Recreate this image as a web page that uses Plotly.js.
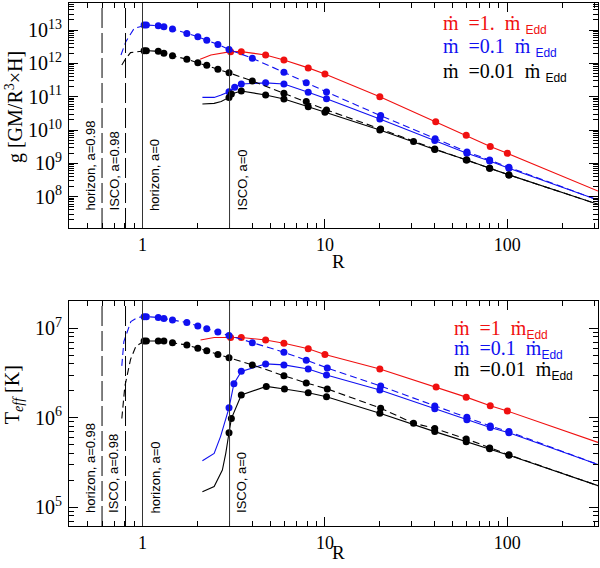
<!DOCTYPE html>
<html>
<head>
<meta charset="utf-8">
<script src="https://cdn.plot.ly/plotly-3.0.1.min.js"></script>
<style>body{margin:0;background:#fff}#plot{width:600px;height:568px}</style>
</head>
<body>
<div id="plot"></div>
<script>
// radii of horizon / ISCO markers (R in units of 2GM/c^2)
const refRadii = [0.6, 0.807, 1, 3];
const refLabels = ["horizon, a=0.98", "ISCO, a=0.98", "horizon, a=0", "ISCO, a=0"];

// top panel: g [GM/R^3 x H]
const topRedR = [2.07, 2.37, 3.04, 3.48, 4.73, 5.96, 8.1, 10, 20, 40.5, 59.5, 80.6, 100, 314];
const topRed = [1.32e12, 1.78e12, 2.24e12, 2.24e12, 1.78e12, 1.26e12, 7.3e11, 4.8e11, 1.0e11, 1.78e10, 6.9e9, 3.2e9, 2.0e9, 1.48e8];
const topBlueDashR = [0.762, 0.81, 0.9, 1.02, 1.05, 1.22, 1.31, 1.46, 1.75, 2.01, 2.25, 2.59, 2.98, 4.0, 5.96, 7.9, 10.2, 20.2, 40.2, 60.1, 80, 102, 314];
const topBlueDash = [1.78e12, 4.47e12, 1.12e13, 1.41e13, 1.41e13, 1.35e13, 1.26e13, 1.07e13, 7.9e12, 6.3e12, 4.9e12, 3.7e12, 2.6e12, 1.41e12, 5.4e11, 2.6e11, 1.38e11, 2.7e10, 5.5e9, 2.2e9, 1.26e9, 7.6e8, 7.9e7];
const topBlueR = [2.13, 2.47, 2.7, 2.98, 3.2, 3.48, 4.73, 5.96, 8.1, 10.2, 20, 40, 60, 80, 102, 314];
const topBlue = [9.5e10, 9.5e10, 1.12e11, 1.41e11, 1.9e11, 2.4e11, 2.6e11, 2.4e11, 1.35e11, 8.7e10, 2.14e10, 4.8e9, 2.0e9, 1.17e9, 7.1e8, 7.9e7];
const topBlackDashR = [0.77, 0.8, 0.86, 1.02, 1.05, 1.22, 1.31, 1.46, 1.75, 2.01, 2.25, 2.59, 2.98, 4.0, 5.96, 7.9, 10.2, 20.2, 30.6, 40, 59.5, 80, 102, 314];
const topBlackDash = [8.9e11, 1.26e12, 2.1e12, 2.4e12, 2.4e12, 2.3e12, 2.0e12, 1.7e12, 1.32e12, 1.05e12, 8.7e11, 6.6e11, 5.2e11, 2.95e11, 1.26e11, 7.2e10, 4.0e10, 1.07e10, 4.5e9, 2.7e9, 1.26e9, 7.1e8, 4.5e8, 5.9e7];
const topBlackR = [2.13, 2.47, 2.7, 2.98, 3.07, 3.48, 4.73, 5.96, 8.1, 10, 20, 40, 60, 80, 102, 314];
const topBlack = [6.0e10, 6.3e10, 7.2e10, 9.5e10, 1.2e11, 1.48e11, 1.12e11, 8.5e10, 5.0e10, 3.4e10, 1.0e10, 2.6e9, 1.26e9, 7.1e8, 4.5e8, 5.9e7];

// bottom panel: Teff [K]
const botRedR = [2.08, 2.47, 3.04, 3.48, 4.73, 5.96, 8.1, 10, 20, 40.7, 59.5, 80.6, 100, 314];
const botRed = [7.4e6, 7.9e6, 7.9e6, 7.9e6, 7.4e6, 6.8e6, 5.9e6, 5.1e6, 3.5e6, 2.2e6, 1.7e6, 1.36e6, 1.19e6, 5.3e5];
const botBlueDashR = [0.77, 0.79, 0.863, 0.94, 1.02, 1.05, 1.22, 1.31, 1.46, 1.75, 2.01, 2.25, 2.59, 2.98, 4.0, 5.96, 7.9, 10.3, 20.2, 40, 60, 80.6, 102, 314];
const botBlueDash = [3.8e6, 7.1e6, 1.19e7, 1.32e7, 1.35e7, 1.35e7, 1.32e7, 1.29e7, 1.24e7, 1.16e7, 1.06e7, 9.9e6, 9.1e6, 8.3e6, 6.9e6, 5.4e6, 4.4e6, 3.6e6, 2.26e6, 1.35e6, 1.01e6, 8.1e5, 7.0e5, 3.0e5];
const botBlueR = [2.13, 2.47, 2.68, 2.92, 2.98, 3.17, 3.48, 4.73, 5.96, 8.1, 10.2, 20, 40, 60, 80.6, 102, 314];
const botBlue = [3.3e5, 4.0e5, 6.2e5, 1.12e6, 1.29e6, 2.4e6, 3.3e6, 4.0e6, 3.9e6, 3.5e6, 3.0e6, 2.04e6, 1.26e6, 9.5e5, 7.8e5, 6.8e5, 3.0e5];
const botBlackDashR = [0.77, 0.8, 0.86, 0.92, 1.02, 1.05, 1.22, 1.31, 1.46, 1.75, 2.01, 2.25, 2.59, 2.98, 4.0, 5.96, 7.9, 10.3, 20.2, 30.6, 40, 59.5, 80, 102, 314];
const botBlackDash = [9.8e5, 2.24e6, 4.5e6, 6.3e6, 7.2e6, 7.2e6, 7.2e6, 7.2e6, 6.9e6, 6.5e6, 6.0e6, 5.6e6, 5.1e6, 4.7e6, 3.9e6, 2.95e6, 2.45e6, 2.1e6, 1.28e6, 8.7e5, 7.6e5, 5.8e5, 4.6e5, 3.85e5, 1.74e5];
const botBlackR = [2.13, 2.47, 2.74, 2.86, 2.98, 3.07, 3.48, 4.77, 6.0, 8.1, 10.2, 20, 40, 59.5, 80, 102, 314];
const botBlack = [1.49e5, 1.7e5, 2.6e5, 4.0e5, 6.8e5, 9.8e5, 1.8e6, 2.24e6, 2.1e6, 1.9e6, 1.72e6, 1.12e6, 7.0e5, 5.4e5, 4.5e5, 3.8e5, 1.74e5];

const xTicks = [1, 10, 100];
const topYTicks = [1e8, 1e9, 1e10, 1e11, 1e12, 1e13];
const botYTicks = [1e5, 1e6, 1e7];

const RED = "#f01010", BLUE = "#1010f0", BLACK = "#000";
const SERIF = "Liberation Serif, DejaVu Serif, serif";

// model points only exist between the inner edge and R~100
function curve(R, v, color, dash, dotMin, xa, ya) {
  const idx = R.map((r, i) => (r >= dotMin && r <= 105) ? i : -1).filter(i => i !== -1);
  return [
    { type: "scatter", mode: "lines", x: R, y: v, xaxis: xa, yaxis: ya,
      line: { color: color, width: 1.1, dash: dash }, hoverinfo: "skip" },
    { type: "scatter", mode: "markers", x: idx.map(i => R[i]), y: idx.map(i => v[i]),
      xaxis: xa, yaxis: ya, marker: { color: color, size: 7 }, hoverinfo: "skip" }
  ];
}

const DASH = "7px,4px";
const traces = [].concat(
  curve(topRedR, topRed, RED, "solid", 3.0, "x", "y"),
  curve(topBlueDashR, topBlueDash, BLUE, DASH, 1.0, "x", "y"),
  curve(topBlueR, topBlue, BLUE, "solid", 2.95, "x", "y"),
  curve(topBlackDashR, topBlackDash, BLACK, DASH, 1.0, "x", "y"),
  curve(topBlackR, topBlack, BLACK, "solid", 2.95, "x", "y"),
  curve(botRedR, botRed, RED, "solid", 3.0, "x2", "y2"),
  curve(botBlueDashR, botBlueDash, BLUE, DASH, 1.0, "x2", "y2"),
  curve(botBlueR, botBlue, BLUE, "solid", 2.95, "x2", "y2"),
  curve(botBlackDashR, botBlackDash, BLACK, DASH, 1.0, "x2", "y2"),
  curve(botBlackR, botBlack, BLACK, "solid", 2.95, "x2", "y2")
);

function minorVals(lo, hi) {
  const out = [];
  for (let d = Math.floor(lo); d <= Math.ceil(hi); d++)
    for (let k = 2; k <= 9; k++) out.push(k * Math.pow(10, d));
  return out;
}
function logLabel(v) {
  const e = Math.round(Math.log10(v));
  return "10<sup>" + e + "</sup>";
}

const xRange = [-0.403, 2.497];
const topRange = [7.06, 13.81];
const botRange = [4.79, 7.305];

function axisBase(range, tickvals, ticktext, fsize) {
  return {
    type: "log", range: range, tickvals: tickvals, ticktext: ticktext,
    ticks: "inside", ticklen: 9, tickwidth: 1, tickcolor: "#000",
    mirror: "allticks", showline: true, linecolor: "#000", linewidth: 1,
    showgrid: false, zeroline: false,
    tickfont: { family: SERIF, size: fsize, color: "#000" },
    minor: { tickmode: "array", tickvals: minorVals(range[0], range[1]),
             ticks: "inside", ticklen: 5, tickcolor: "#000", tickwidth: 1, showgrid: false }
  };
}

const xTickText = xTicks.map(String);
const layout = {
  width: 600, height: 568,
  margin: { l: 69, r: 2, t: 3, b: 42 },
  paper_bgcolor: "#fff", plot_bgcolor: "#fff",
  showlegend: false,
  xaxis: Object.assign(axisBase(xRange, xTicks, xTickText, 18), { anchor: "y" }),
  yaxis: Object.assign(axisBase(topRange, topYTicks, topYTicks.map(logLabel), 20), { domain: [0.5698, 1], anchor: "x", ticklabelstandoff: 2 }),
  xaxis2: Object.assign(axisBase(xRange, xTicks, xTickText, 18), { anchor: "y2" }),
  yaxis2: Object.assign(axisBase(botRange, botYTicks, botYTicks.map(logLabel), 20), { domain: [0, 0.4302], anchor: "x2", ticklabelstandoff: 2 }),
  shapes: [],
  annotations: []
};

// horizon / ISCO lines with rotated labels in both panels
[["x", "y"], ["x2", "y2"]].forEach(([xa, ya], p) => {
  refRadii.forEach((r, i) => {
    const outer = i < 2;
    layout.shapes.push({
      type: "line", xref: xa, yref: ya + " domain", x0: r, x1: r, y0: 0, y1: 1,
      line: { color: outer ? "#000" : "#333", width: 1, dash: outer ? "20px,5px" : "solid" }
    });
    layout.annotations.push({
      text: refLabels[i], xref: xa, yref: ya + " domain",
      x: Math.log10(r), y: p === 0 ? 0.067 : 0.047,
      xanchor: outer ? "right" : "left", yanchor: "bottom", xshift: outer ? -2 : 3,
      textangle: -90, showarrow: false,
      font: { family: "Liberation Sans, Arial, sans-serif", size: 13, color: "#000" }
    });
  });
});

const sp = "\u00a0";
function eddLabel(val, color, gap) {
  return {
    text: "ṁ" + sp + sp + "=" + val + sp + sp + "ṁ" + gap +
      "<sub><span style='font-family:Liberation Sans, Arial;font-size:12px'>Edd</span></sub>",
    font: { family: SERIF, size: 20, color: color }
  };
}
const legendTop = [["1.", RED, 0.958], ["0.1", BLUE, 0.914], ["0.01", BLACK, 0.868]];
const legendBot = [["1", RED, 0.375], ["0.1", BLUE, 0.337], ["0.01", BLACK, 0.298]];
legendTop.forEach(([v, c, y]) => {
  layout.annotations.push(Object.assign(eddLabel(v, c, sp), {
    xref: "paper", yref: "paper", x: 0.704, y: y, xanchor: "left", yanchor: "middle", showarrow: false }));
});
legendBot.forEach(([v, c, y]) => {
  layout.annotations.push(Object.assign(eddLabel(v, c, ""), {
    xref: "paper", yref: "paper", x: 0.724, y: y, xanchor: "left", yanchor: "middle", showarrow: false }));
});

// axis titles
layout.annotations.push(
  { text: "g" + sp + "[GM/R<sup>3</sup>×H]", xref: "paper", yref: "paper", x: -0.104, y: 0.801,
    xanchor: "center", yanchor: "middle",
    textangle: -90, showarrow: false, font: { family: SERIF, size: 20, color: "#000" } },
  { text: "T<sub><i>eff</i></sub>" + sp + "[K]", xref: "paper", yref: "paper", x: -0.106, y: 0.252,
    xanchor: "center", yanchor: "middle",
    textangle: -90, showarrow: false, font: { family: SERIF, size: 20, color: "#000" } },
  { text: "R", xref: "paper", yref: "paper", x: 0.51, y: 0.505, xanchor: "center", yanchor: "middle",
    showarrow: false, font: { family: SERIF, size: 19, color: "#000" } },
  { text: "R", xref: "paper", yref: "paper", x: 0.51, y: -0.05, xanchor: "center", yanchor: "middle",
    showarrow: false, font: { family: SERIF, size: 19, color: "#000" } }
);

Plotly.newPlot("plot", traces, layout, { staticPlot: true });
</script>
</body>
</html>
